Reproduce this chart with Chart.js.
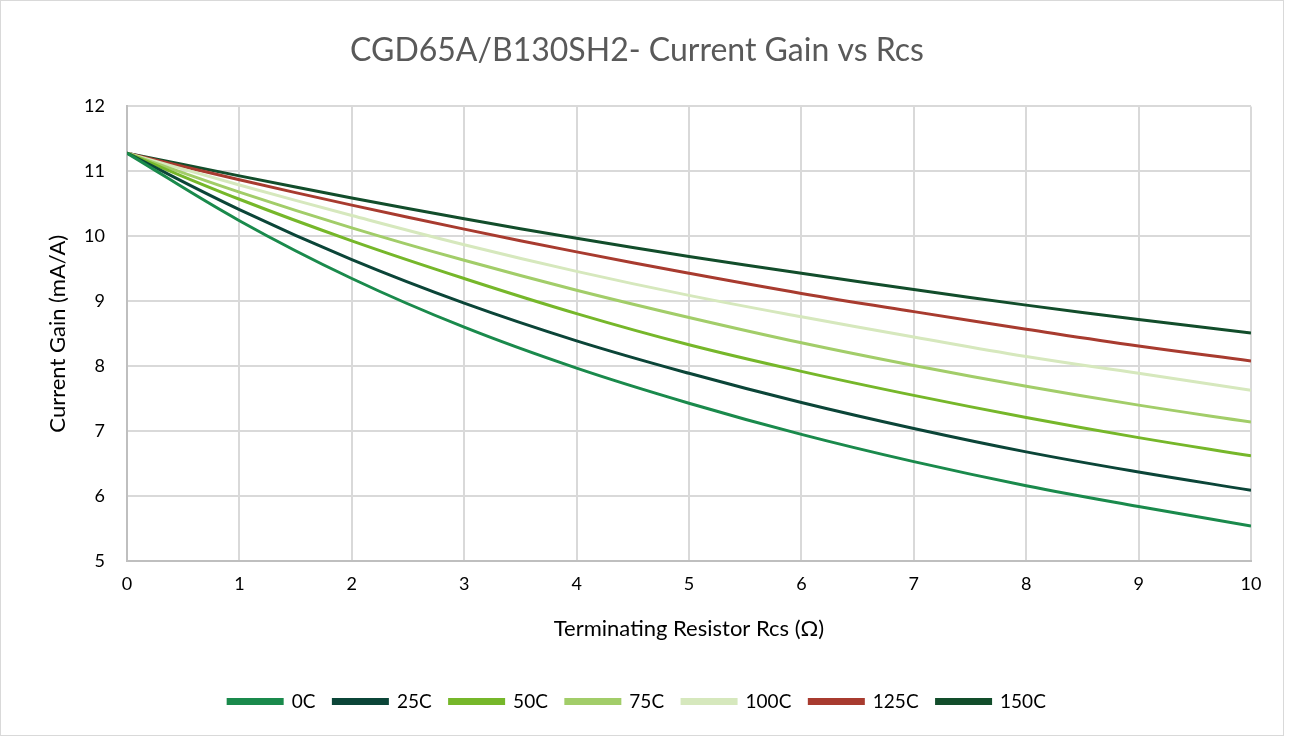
<!DOCTYPE html>
<html>
<head>
<meta charset="utf-8">
<script src="https://cdn.jsdelivr.net/npm/chart.js@4"></script>
<style>
  html, body { margin: 0; padding: 0; background: #fff; }
  #wrap { position: absolute; left: 0; top: 0; width: 1284px; height: 736px; border: 1px solid #d9d9d9; box-sizing: border-box; }
  canvas { display: block; }
</style>
</head>
<body>
<div id="wrap"><canvas id="graph"></canvas></div>
<script>
// x values (Rcs, ohm)
const rcs = [0, 1, 2, 3, 4, 5, 6, 7, 8, 9, 10];

// current gain (mA/A)
const gain0C   = [11.28, 10.24, 9.35, 8.60, 7.97, 7.43, 6.95, 6.53, 6.16, 5.84, 5.54];
const gain25C  = [11.28, 10.41, 9.64, 8.97, 8.39, 7.89, 7.44, 7.04, 6.68, 6.37, 6.09];
const gain50C  = [11.28, 10.57, 9.93, 9.35, 8.81, 8.33, 7.92, 7.55, 7.21, 6.90, 6.62];
const gain75C  = [11.28, 10.68, 10.13, 9.63, 9.17, 8.75, 8.36, 8.01, 7.69, 7.40, 7.14];
const gain100C = [11.28, 10.79, 10.32, 9.87, 9.46, 9.09, 8.76, 8.45, 8.15, 7.89, 7.63];
const gain125C = [11.28, 10.87, 10.48, 10.11, 9.76, 9.43, 9.12, 8.84, 8.57, 8.31, 8.08];
const gain150C = [11.28, 10.93, 10.59, 10.27, 9.97, 9.69, 9.43, 9.18, 8.94, 8.72, 8.51];

const seriesNames = ['0C', '25C', '50C', '75C', '100C', '125C', '150C'];
const seriesColors = ['#1a8a4c', '#0b4538', '#76b72a', '#a2cd69', '#d6e8bd', '#a83b2f', '#124d2b'];
const seriesValues = [gain0C, gain25C, gain50C, gain75C, gain100C, gain125C, gain150C];

const font = "Lato, 'Open Sans', sans-serif";

const canvas = document.getElementById('graph');
canvas.width = 1282;
canvas.height = 734;

const datasets = seriesNames.map(function(name, i) {
    return {
        label: name,
        data: rcs.map(function(x, j) { return { x: x, y: seriesValues[i][j] }; }),
        borderColor: seriesColors[i],
        backgroundColor: seriesColors[i],
        borderWidth: 3,
        pointRadius: 0,
        tension: 0.4,
        fill: false
    };
});

new Chart(canvas.getContext('2d'), {
    type: 'line',
    data: { datasets: datasets },
    options: {
        responsive: false,
        animation: false,
        layout: { padding: { left: 22, right: 32, top: 0, bottom: 14 } },
        scales: {
            x: {
                type: 'linear',
                min: 0,
                max: 10,
                ticks: { stepSize: 1, color: '#000', font: { family: font, size: 18 }, padding: 12 },
                grid: { color: '#d9d9d9', lineWidth: 2, drawTicks: false },
                border: { color: '#bfbfbf', width: 2 },
                title: { display: true, text: 'Terminating Resistor Rcs (Ω)', color: '#000', font: { family: font, size: 22 }, padding: { top: 4, bottom: 32 } },
                afterFit: function(scale) { scale.height = 113; }
            },
            y: {
                min: 5,
                max: 12,
                ticks: { stepSize: 1, color: '#000', font: { family: font, size: 18 }, padding: 22 },
                grid: { color: '#d9d9d9', lineWidth: 2, drawTicks: false },
                border: { color: '#bfbfbf', width: 2 },
                title: { display: true, text: 'Current Gain (mA/A)', color: '#000', font: { family: font, size: 22 }, padding: { top: 22, bottom: 0 } },
                afterFit: function(scale) { scale.width = 104; }
            }
        },
        plugins: {
            title: {
                display: true,
                text: 'CGD65A/B130SH2- Current Gain vs Rcs',
                color: '#595959',
                font: { family: font, size: 32, weight: 'normal' },
                padding: { top: 30, bottom: 37 }
            },
            legend: {
                position: 'bottom',
                labels: {
                    boxWidth: 54,
                    boxHeight: 4,
                    color: '#000',
                    font: { family: font, size: 19 },
                    padding: 18
                }
            },
            tooltip: { enabled: false }
        }
    }
});
</script>
</body>
</html>
